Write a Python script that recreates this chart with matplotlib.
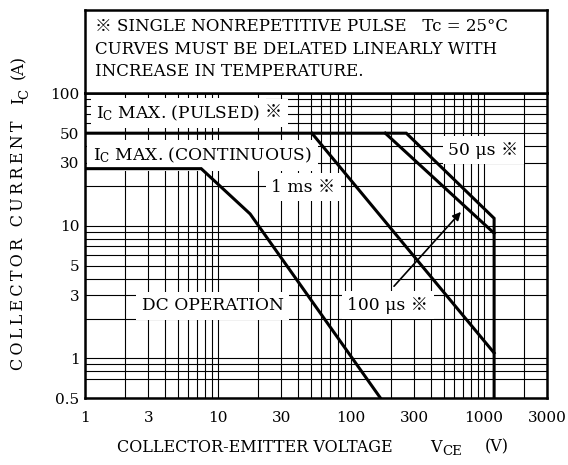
import matplotlib.pyplot as plt
from matplotlib.ticker import NullFormatter

plt.rcParams['font.family'] = ['DejaVu Serif', 'Noto Sans CJK JP']
plt.rcParams['mathtext.fontset'] = 'dejavuserif'

# safe operating area curves (V_CE in V, I_C in A)
dc_v = [1, 7.5, 17.5, 168]
dc_i = [27, 27, 12.3, 0.5]
ms1_v = [51, 1200]
ms1_i = [50, 1.1]
us100_v = [182, 1200]
us100_i = [50, 8.8]
us50_v = [1, 262, 1200, 1200]
us50_i = [50, 50, 11.4, 0.5]

x_ticks = [1, 3, 10, 30, 100, 300, 1000, 3000]
y_ticks = [0.5, 1, 3, 5, 10, 30, 50, 100]
x_grid = [2, 4, 5, 6, 7, 8, 9, 20, 40, 50, 60, 70, 80, 90,
          200, 400, 500, 600, 700, 800, 900, 2000]
y_grid = [0.7, 0.8, 0.9, 2, 4, 6, 7, 8, 9, 20, 40, 60, 70, 80, 90]

fig = plt.figure(figsize=(5.68, 4.65), dpi=100)
ax = fig.add_axes([0.1496, 0.1434, 0.8134, 0.656])
ax.set_xscale('log')
ax.set_yscale('log')
ax.set_xlim(1, 3000)
ax.set_ylim(0.5, 100)

ax.set_xticks(x_ticks)
ax.set_xticklabels([str(v) for v in x_ticks])
ax.set_xticks(x_grid, minor=True)
ax.set_yticks(y_ticks)
ax.set_yticklabels(['0.5', '1', '3', '5', '10', '30', '50', '100'])
ax.set_yticks(y_grid, minor=True)
ax.xaxis.set_minor_formatter(NullFormatter())
ax.yaxis.set_minor_formatter(NullFormatter())
ax.tick_params(which='both', length=0, labelsize=11, colors='black')
ax.tick_params(axis='x', pad=9)
ax.tick_params(axis='y', pad=4)
ax.grid(which='both', color='black', lw=0.8, zorder=1)
ax.set_axisbelow(True)
for s in ax.spines.values():
    s.set_linewidth(1.8)

lw = 2.2
ax.plot(dc_v, dc_i, color='black', lw=lw, zorder=5, solid_joinstyle='miter')
ax.plot(ms1_v, ms1_i, color='black', lw=lw, zorder=5)
ax.plot(us100_v, us100_i, color='black', lw=lw, zorder=5)
ax.plot(us50_v, us50_i, color='black', lw=lw, zorder=5, solid_joinstyle='miter')

box = dict(facecolor='white', edgecolor='none', pad=4)
kw = dict(fontsize=12.3, va='center', ha='left', zorder=4, bbox=box)
ax.text(1.22, 71, r'I$_{\rm C}$ MAX. (PULSED)', **kw)
ax.text(22.6, 71, '※', **kw)
ax.text(1.15, 34, r'I$_{\rm C}$ MAX. (CONTINUOUS)', **kw)
ax.text(25.2, 19.6, '1 ms ※', **kw)
ax.text(544, 37.3, '50 μs ※', **kw)
ax.text(94, 2.52, '100 μs ※', **kw)
ax.text(2.67, 2.49, 'DC OPERATION', **kw)
ax.annotate('', xy=(697, 13.2), xytext=(205, 3.38),
            arrowprops=dict(arrowstyle='-|>', color='black', lw=1.2,
                            mutation_scale=12), zorder=6)

# axis titles, pieced together to follow the spacing of the original
fig.text(117 / 568, 0.0387, 'COLLECTOR-EMITTER VOLTAGE', fontsize=11.5,
         ha='left', va='center')
fig.text(430 / 568, 0.0387, 'V', fontsize=11.5, ha='left', va='center')
fig.text(442 / 568, 0.0387 - 0.009, 'CE', fontsize=9.5, ha='left', va='center')
fig.text(485 / 568, 0.0387, '(V)', fontsize=11.5, ha='left', va='center')

ylab = '\u2009'.join('COLLECTOR CURRENT')
fig.text(0.032, 1 - 245.5 / 465, ylab, fontsize=11.5, rotation=90,
         ha='center', va='center')
fig.text(0.032, 1 - 101 / 465, 'I', fontsize=11.5, rotation=90,
         ha='center', va='center')
fig.text(0.032 + 0.011, 1 - 93.5 / 465, 'C', fontsize=9.5, rotation=90,
         ha='center', va='center')
fig.text(0.032, 1 - 66.5 / 465, '(A)', fontsize=11.5, rotation=90,
         ha='center', va='center')

# note box above the chart
nb = fig.add_axes([0.1496, 0.7994, 0.8134, 0.1791])
nb.set_xticks([])
nb.set_yticks([])
for s in nb.spines.values():
    s.set_linewidth(1.8)
note = ['※ SINGLE NONREPETITIVE PULSE   Tc = 25°C',
        'CURVES MUST BE DELATED LINEARLY WITH',
        'INCREASE IN TEMPERATURE.']
for k, line in enumerate(note):
    nb.text(0.022, 0.80 - k * 0.27, line, fontsize=12, va='center', ha='left',
            transform=nb.transAxes)

fig.savefig('out.png', dpi=100)
